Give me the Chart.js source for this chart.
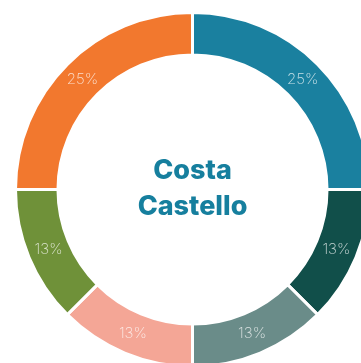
<!DOCTYPE html>
<html>
<head>
<meta charset="utf-8">
<script src="https://cdn.jsdelivr.net/npm/chart.js@4/dist/chart.umd.min.js"></script>
<style>
  html, body { margin: 0; padding: 0; background: #fff; overflow: hidden; }
  #wrap { position: absolute; left: 0; top: 0; width: 385px; height: 379px; }
</style>
</head>
<body>
<div id="wrap"><canvas id="donut"></canvas></div>
<script>
'use strict';

var labels = ['Teal', 'Dark green', 'Sage', 'Salmon', 'Olive', 'Orange'];
var values = [25, 12.5, 12.5, 12.5, 12.5, 25];
var colors = ['#1a809f', '#114f4a', '#6a8c89', '#f4a696', '#6f9139', '#f2782e'];
var centerLines = ['Costa', 'Castello'];

// percentage text on each slice, placed at the ring's middle
var sliceLabels = {
    id: 'sliceLabels',
    afterDatasetsDraw: function(chart) {
        var ctx = chart.ctx;
        var meta = chart.getDatasetMeta(0);
        var total = values.reduce(function(a, b) { return a + b; }, 0);
        ctx.save();
        ctx.font = '200 15px Inter';
        ctx.fillStyle = 'rgba(255, 255, 255, 0.75)';
        ctx.textAlign = 'center';
        ctx.textBaseline = 'middle';
        meta.data.forEach(function(arc, i) {
            var pos = arc.tooltipPosition();
            ctx.fillText(Math.round(values[i] / total * 100) + '%', pos.x, pos.y);
        });
        ctx.restore();
    }
};

var centerText = {
    id: 'centerText',
    afterDraw: function(chart) {
        var ctx = chart.ctx;
        var arc = chart.getDatasetMeta(0).data[0];
        ctx.save();
        ctx.font = '800 27px Inter';
        ctx.fillStyle = '#167f9e';
        ctx.textAlign = 'center';
        ctx.textBaseline = 'middle';
        ctx.fillText(centerLines[0], arc.x, arc.y - 19);
        ctx.fillText(centerLines[1], arc.x, arc.y + 17);
        ctx.restore();
    }
};

new Chart(document.getElementById('donut'), {
    type: 'doughnut',
    data: {
        labels: labels,
        datasets: [{
            data: values,
            backgroundColor: colors,
            borderColor: '#ffffff',
            borderWidth: 3
        }]
    },
    options: {
        responsive: true,
        maintainAspectRatio: false,
        animation: false,
        cutout: '76%',
        layout: { padding: 11 },
        plugins: {
            legend: { display: false },
            tooltip: { enabled: false }
        }
    },
    plugins: [sliceLabels, centerText]
});
</script>
</body>
</html>
